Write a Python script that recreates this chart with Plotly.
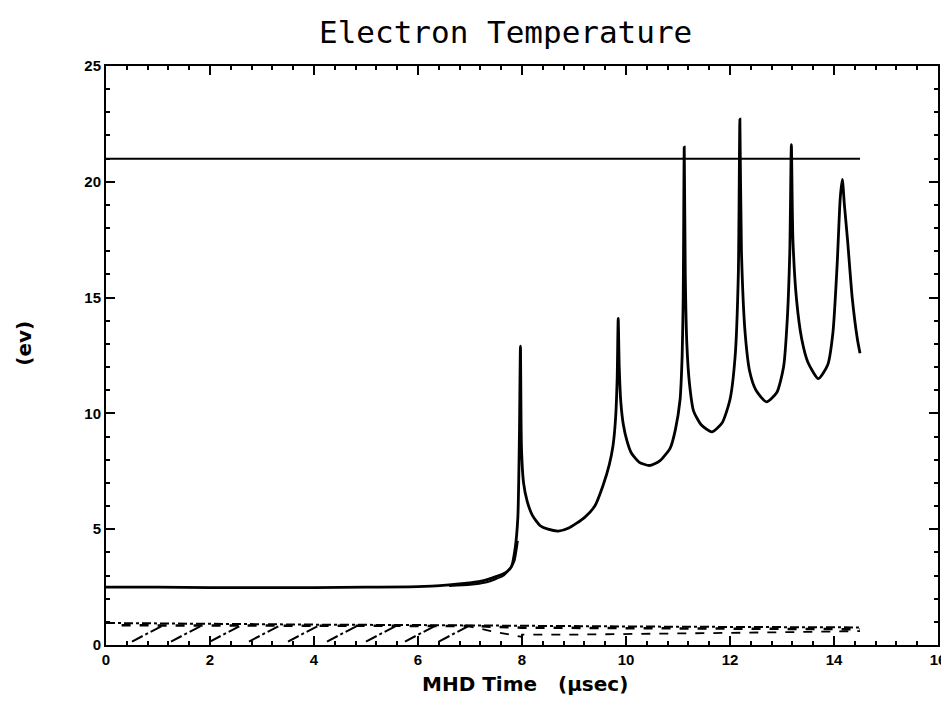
import plotly.graph_objects as go

# Main electron temperature curve (eV) vs MHD time (usec)
te_x = [0, 1, 2, 3, 4, 5, 6, 6.6, 7.0, 7.3, 7.5, 7.7, 7.8, 7.87, 7.92, 7.95, 7.97, 7.99,
        8.03, 8.1, 8.2, 8.35, 8.5, 8.7, 8.9, 9.2, 9.4, 9.56, 9.68, 9.75, 9.8, 9.83, 9.85,
        9.87, 9.9, 9.95, 10.02, 10.1, 10.25, 10.45, 10.65, 10.85, 10.95, 11.04, 11.08,
        11.1, 11.12, 11.14, 11.17, 11.22, 11.3, 11.45, 11.65, 11.85, 12.0, 12.1, 12.16,
        12.19, 12.22, 12.29, 12.38, 12.5, 12.7, 12.9, 13.03, 13.1, 13.15, 13.18, 13.21,
        13.28, 13.38, 13.5, 13.7, 13.88, 13.98, 14.06, 14.12, 14.16, 14.2, 14.26, 14.35,
        14.45, 14.5]
te_y = [2.5, 2.5, 2.48, 2.48, 2.48, 2.5, 2.52, 2.6, 2.68, 2.8, 2.95, 3.15, 3.4, 4.2, 5.5,
        9.0, 12.9, 8.5, 7.0, 6.2, 5.6, 5.15, 5.0, 4.92, 5.05, 5.5, 6.0, 6.9, 7.8, 8.6, 9.8,
        11.5, 14.1, 12.0, 10.5, 9.5, 8.8, 8.3, 7.9, 7.75, 7.95, 8.5, 9.3, 10.6, 12.5, 15.0,
        21.5, 16.0, 13.0, 11.3, 10.1, 9.5, 9.2, 9.6, 10.6, 12.5, 16.0, 22.7, 17.0, 13.5,
        11.8, 11.0, 10.5, 10.9, 12.0, 14.0, 17.0, 21.6, 17.5, 14.9, 13.2, 12.2, 11.5, 12.1,
        13.5, 16.4, 19.3, 20.1, 19.0, 17.5, 15.0, 13.2, 12.6]

# Secondary trace hugging the pre-spike rise
te2_x = [6.6, 7.0, 7.3, 7.5, 7.65, 7.75, 7.85, 7.92]
te2_y = [2.55, 2.6, 2.7, 2.85, 3.0, 3.25, 3.6, 4.5]

# Reference level
ref_x = [0, 14.5]
ref_y = [21.0, 21.0]

# Low-level dash-dot curve
low1_x = [0, 2, 4, 6, 8, 10, 12, 14.5]
low1_y = [0.95, 0.9, 0.88, 0.86, 0.82, 0.8, 0.78, 0.76]

# Second dashed curve near the top of the hatching
low2_x = [0.3, 2, 4, 6, 7, 8, 10, 12, 14.5]
low2_y = [0.85, 0.85, 0.84, 0.83, 0.82, 0.75, 0.72, 0.7, 0.68]

# Lower dashed curve after ~7 usec
low3_x = [6.9, 7.4, 8.0, 8.0, 9, 10, 11, 12, 13, 14.5]
low3_y = [0.85, 0.6, 0.35, 0.45, 0.45, 0.47, 0.5, 0.52, 0.55, 0.6]

# Hatched strokes between 0 and ~0.9
hatch_start = [0.5, 1.25, 2.0, 2.75, 3.5, 4.25, 5.0, 5.75, 6.4]
hatch_len = 0.6
hatch_lo = 0.15
hatch_hi = 0.85

x_ticks = [0, 2, 4, 6, 8, 10, 12, 14, 16]
y_ticks = [0, 5, 10, 15, 20, 25]

hx, hy = [], []
for s in hatch_start:
    hx += [s, s + hatch_len, None]
    hy += [hatch_lo, hatch_hi, None]

fig = go.Figure()
fig.add_trace(go.Scatter(x=hx, y=hy, mode="lines",
                         line=dict(color="black", width=2, dash="12px,3px,3px,3px")))
fig.add_trace(go.Scatter(x=low1_x, y=low1_y, mode="lines",
                         line=dict(color="black", width=2, dash="dashdot")))
fig.add_trace(go.Scatter(x=low2_x, y=low2_y, mode="lines",
                         line=dict(color="black", width=2.5, dash="dash")))
fig.add_trace(go.Scatter(x=low3_x, y=low3_y, mode="lines",
                         line=dict(color="black", width=1.8, dash="dash")))
fig.add_trace(go.Scatter(x=ref_x, y=ref_y, mode="lines",
                         line=dict(color="black", width=2)))
fig.add_trace(go.Scatter(x=te2_x, y=te2_y, mode="lines",
                         line=dict(color="black", width=2, shape="spline", smoothing=0.6)))
fig.add_trace(go.Scatter(x=te_x, y=te_y, mode="lines",
                         line=dict(color="black", width=2.8, shape="spline", smoothing=0.6)))

tickfont = dict(family="Liberation Sans", size=15, color="black", weight="bold")
fig.update_xaxes(range=[0, 16], tickvals=x_ticks, ticktext=[str(v) for v in x_ticks],
                 ticks="inside", ticklen=9, tickwidth=2, tickcolor="black",
                 showline=True, linecolor="black", linewidth=2, mirror="ticks",
                 showgrid=False, zeroline=False, tickfont=tickfont,
                 minor=dict(dtick=0.4, tick0=0, ticks="inside", ticklen=4,
                            tickwidth=2, tickcolor="black", showgrid=False))
fig.update_yaxes(range=[0, 25], tickvals=y_ticks, ticktext=[str(v) for v in y_ticks],
                 ticks="inside", ticklen=9, tickwidth=2, tickcolor="black",
                 showline=True, linecolor="black", linewidth=2, mirror="ticks",
                 showgrid=False, zeroline=False, tickfont=tickfont,
                 minor=dict(dtick=1, tick0=0, ticks="inside", ticklen=4,
                            tickwidth=2, tickcolor="black", showgrid=False))

fig.update_layout(
    width=950, height=690,
    margin=dict(l=98, r=12, t=58, b=53),
    paper_bgcolor="white", plot_bgcolor="white",
    showlegend=False,
    annotations=[
        dict(text="Electron Temperature", xref="paper", yref="paper",
             x=0.48, y=1.0587, xanchor="center", yanchor="middle", showarrow=False,
             font=dict(family="DejaVu Sans Mono", size=31, color="black")),
        dict(text="MHD Time   (\u03bcsec)", xref="paper", yref="paper",
             x=0.504, y=-0.067, xanchor="center", yanchor="middle", showarrow=False,
             font=dict(family="DejaVu Sans", size=20, color="black", weight="bold")),
        dict(text="(ev)", xref="paper", yref="paper",
             x=-0.0986, y=0.522, xanchor="center", yanchor="middle", showarrow=False,
             textangle=-90,
             font=dict(family="DejaVu Sans", size=20, color="black", weight="bold")),
    ],
)

fig.write_html("out.html")
